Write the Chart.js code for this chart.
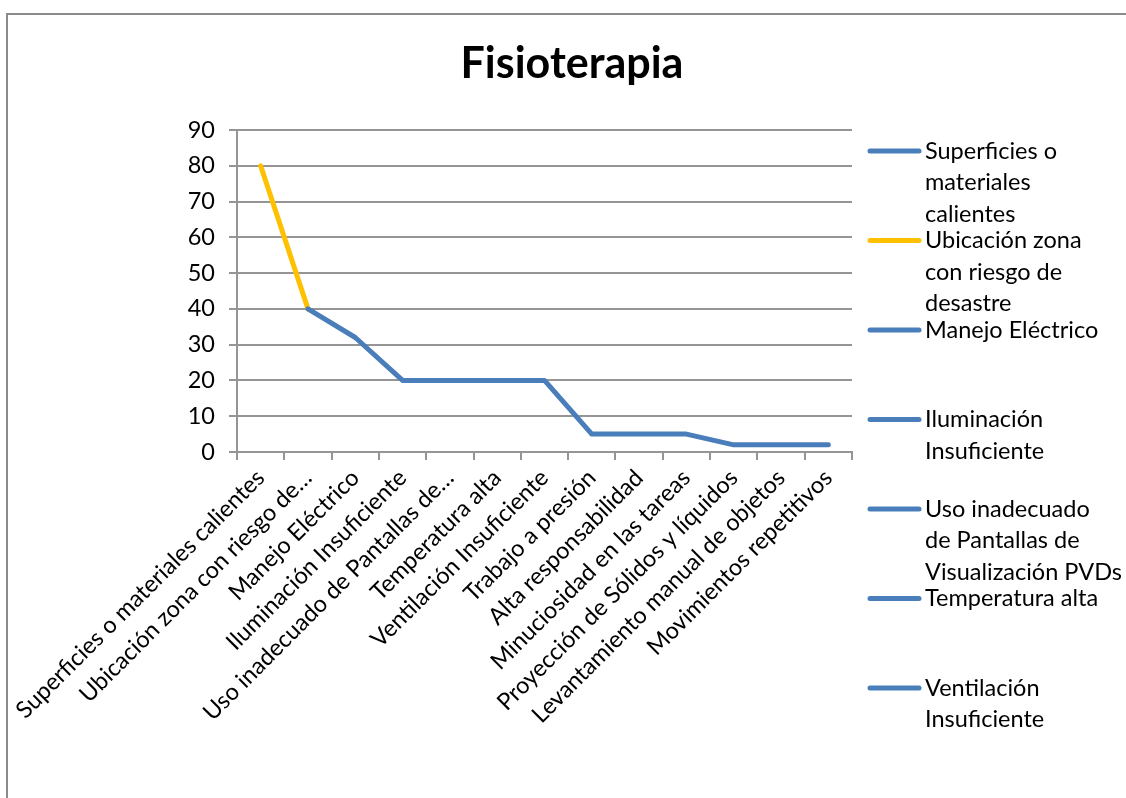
<!DOCTYPE html>
<html>
<head>
<meta charset="utf-8">
<script src="https://cdn.jsdelivr.net/npm/chart.js@4"></script>
<style>
  html, body { margin: 0; padding: 0; background: #fff; overflow: hidden; }
  #wrap { position: relative; width: 1126px; height: 798px; overflow: hidden; }
  #frame { position: absolute; left: 6px; top: 13px; width: 1200px; height: 900px; border: 2px solid #8a8a8a; }
  #chart { position: absolute; left: 0; top: 0; }
</style>
</head>
<body>
<div id="wrap">
  <div id="frame"></div>
  <canvas id="chart" width="1126" height="798"></canvas>
</div>
<script>
// Fisioterapia — riesgos (línea, un punto resaltado en amarillo)
const categories = [
  'Superficies o materiales calientes',
  'Ubicación zona con riesgo de desastre',
  'Manejo Eléctrico',
  'Iluminación Insuficiente',
  'Uso inadecuado de Pantallas de Visualización PVDs',
  'Temperatura alta',
  'Ventilación Insuficiente',
  'Trabajo a presión',
  'Alta responsabilidad',
  'Minuciosidad en las tareas',
  'Proyección de Sólidos y líquidos',
  'Levantamiento manual de objetos',
  'Movimientos repetitivos',
];
const tickLabels = [
  'Superficies o materiales calientes',
  'Ubicación zona con riesgo de…',
  'Manejo Eléctrico',
  'Iluminación Insuficiente',
  'Uso inadecuado de Pantallas de…',
  'Temperatura alta',
  'Ventilación Insuficiente',
  'Trabajo a presión',
  'Alta responsabilidad',
  'Minuciosidad en las tareas',
  'Proyección de Sólidos y líquidos',
  'Levantamiento manual de objetos',
  'Movimientos repetitivos',
];
const values = [80, 40, 32, 20, 20, 20, 20, 5, 5, 5, 2, 2, 2];
// the legend only shows the first entries (the rest are clipped in the original)
const legendLabels = [
  'Superficies o\nmateriales\ncalientes',
  'Ubicación zona\ncon riesgo de\ndesastre',
  'Manejo Eléctrico',
  'Iluminación\nInsuficiente',
  'Uso inadecuado\nde Pantallas de\nVisualización PVDs',
  'Temperatura alta',
  'Ventilación\nInsuficiente',
];
const yMin = 0, yMax = 90, yStep = 10;
const titleText = 'Fisioterapia';

const BLUE = '#4a7ebb';
const GOLD = '#ffc000';
const GRID = '#959595';
const HIGHLIGHT = 1;
const pointColor = (i) => (i === HIGHLIGHT ? GOLD : BLUE);

Chart.defaults.font.family = 'Lato, "Open Sans", sans-serif';
Chart.defaults.color = '#000';

const titlePlugin = {
  id: 'xlTitle',
  afterDraw(chart) {
    const c = chart.ctx;
    c.save();
    c.font = 'bold 43px Lato, sans-serif';
    c.fillStyle = '#000';
    c.textAlign = 'center';
    c.textBaseline = 'alphabetic';
    c.fillText(titleText, 572, 78);
    c.restore();
  },
};

const legendPlugin = {
  id: 'xlLegend',
  afterDraw(chart) {
    const c = chart.ctx;
    c.save();
    c.font = '23.5px Lato, sans-serif';
    c.fillStyle = '#000';
    c.textAlign = 'left';
    c.textBaseline = 'middle';
    c.lineWidth = 5;
    c.lineCap = 'round';
    legendLabels.forEach((lbl, i) => {
      const y = 151 + i * 89.5;
      c.strokeStyle = pointColor(i);
      c.beginPath();
      c.moveTo(870, y);
      c.lineTo(919, y);
      c.stroke();
      lbl.split('\n').forEach((line, k) => c.fillText(line, 925, y + k * 31.5));
    });
    c.restore();
  },
};

new Chart(document.getElementById('chart'), {
  type: 'line',
  data: {
    labels: categories,
    datasets: [{
      label: 'Fisioterapia',
      data: values,
      borderColor: BLUE,
      borderWidth: 5,
      borderCapStyle: 'round',
      borderJoinStyle: 'round',
      pointRadius: 0,
      tension: 0,
      segment: { borderColor: (ctx) => pointColor(ctx.p1DataIndex) },
    }],
  },
  plugins: [titlePlugin, legendPlugin],
  options: {
    responsive: false,
    animation: false,
    layout: { padding: { left: 0, top: 130, right: 274, bottom: 0 } },
    plugins: { legend: { display: false }, title: { display: false }, tooltip: { enabled: false } },
    scales: {
      x: {
        offset: true,
        grid: { offset: true, drawOnChartArea: false, drawTicks: true, tickLength: 8, color: GRID, lineWidth: 2 },
        border: { color: GRID, width: 2 },
        ticks: {
          autoSkip: false, maxRotation: 45, minRotation: 45, padding: 4,
          font: { size: 23.5 },
          callback: (v, i) => tickLabels[i],
        },
        afterFit: (s) => { s.height = 346; },
      },
      y: {
        min: yMin, max: yMax,
        grid: { color: GRID, lineWidth: 2, tickLength: 8 },
        border: { color: GRID, width: 2 },
        ticks: { stepSize: yStep, padding: 14, font: { size: 23.5 } },
        afterFit: (s) => { s.width = 237; },
      },
    },
  },
});
</script>
</body>
</html>
